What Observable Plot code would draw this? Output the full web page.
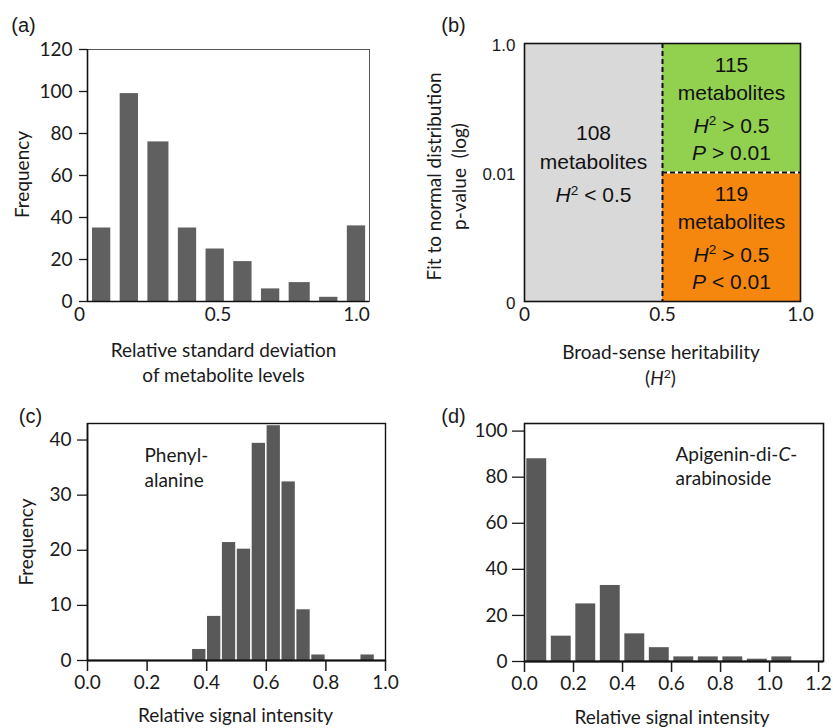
<!DOCTYPE html>
<html><head><meta charset="utf-8">
<script src="https://cdn.jsdelivr.net/npm/d3@7"></script>
<script src="https://cdn.jsdelivr.net/npm/@observablehq/plot@0.6"></script>
<style>
body{margin:0;background:#fff;}
#root{position:relative;width:833px;height:728px;overflow:hidden;}
.panel{position:absolute;}
</style></head><body><div id="root"></div>
<script>
// ---------- data ----------
// (a) histogram of relative standard deviation
const rsdBinLower = [0.03, 0.13, 0.23, 0.34, 0.44, 0.54, 0.64, 0.74, 0.85, 0.95];
const rsdBinUpper = [0.13, 0.23, 0.34, 0.44, 0.54, 0.64, 0.74, 0.85, 0.95, 1.05];
const rsdFrequency = [35, 99, 76, 35, 25, 19, 6, 9, 2, 36];
const rsdTicks = [0, 0.5, 1.0];
const rsdDomain = [0.029, 1.047];
const freqTicksA = [0, 20, 40, 60, 80, 100, 120];

// (b) classification of metabolites
const regionCounts = [108, 115, 119];
const regionH2Low = [0, 0.5, 0.5];
const regionH2High = [0.5, 1, 1];
const regionPLow = [0, 0.01, 0];
const regionPHigh = [1, 1, 0.01];
const regionColors = ["#d9d9d9", "#92d050", "#f5870f"];
const regionConditions = [["H² < 0.5"], ["H² > 0.5", "P > 0.01"], ["H² > 0.5", "P < 0.01"]];
const h2Ticks = [0, 0.5, 1.0];
const pTicks = [0, 0.01, 1];
const pTickLabels = ["0", "0.01", "1.0"];

// (c) phenylalanine
const pheBinLower = [0.35, 0.40, 0.45, 0.50, 0.55, 0.60, 0.65, 0.70, 0.75, 0.915];
const pheBinWidth = 0.05;
const pheFrequency = [2, 8, 21.4, 20.2, 39.4, 42.6, 32.4, 9.2, 1, 1];
const pheTicks = [0, 0.2, 0.4, 0.6, 0.8, 1.0];
const freqTicksC = [0, 10, 20, 30, 40];

// (d) apigenin-di-C-arabinoside
const apiBinLower = [0, 0.1, 0.2, 0.3, 0.4, 0.5, 0.6, 0.7, 0.8, 0.9, 1.0];
const apiBinWidth = 0.1;
const apiFrequency = [88, 11, 25, 33, 12, 6, 2, 2, 2, 1, 2];
const apiTicks = [0, 0.2, 0.4, 0.6, 0.8, 1.0, 1.2];
const freqTicksD = [0, 20, 40, 60, 80, 100];

// ---------- helpers ----------
const FONT = "Lato, 'Open Sans', sans-serif";
const ARIAL = "'Liberation Sans', Arial, sans-serif";
const BAR = "#595959";
const style = {fontFamily: FONT, fontSize: "19px", color: "#1a1a1a", background: "transparent", overflow: "visible"};
const fmt1 = d => d === 0 ? "0" : d.toFixed(1);

function richText(svg) {
  d3.select(svg).selectAll("text").each(function () {
    const s = this.textContent;
    const el = d3.select(this);
    let m = s.match(/^(\(?)([HP])(²?)( .*|\))$/);
    if (m) {
      el.text(null);
      if (m[1]) el.append("tspan").text(m[1]);
      el.append("tspan").attr("font-style", "italic").text(m[2]);
      let shift = false;
      if (m[3]) {
        el.append("tspan").attr("font-size", "0.65em").attr("dy", "-0.55em").text("2");
        shift = true;
      }
      const rest = el.append("tspan").text(m[4]);
      if (shift) rest.attr("dy", "0.3575em");
    } else if (s === "Apigenin-di-C-") {
      el.text(null);
      el.append("tspan").text("Apigenin-di-");
      el.append("tspan").attr("font-style", "italic").text("C");
      el.append("tspan").text("-");
    }
  });
  return svg;
}

function place(svg, left, top) {
  const div = document.createElement("div");
  div.className = "panel";
  div.style.left = left + "px";
  div.style.top = top + "px";
  div.appendChild(richText(svg));
  document.getElementById("root").appendChild(div);
}

// ---------- (a) ----------
const dataA = rsdFrequency.map((f, i) => ({lo: rsdBinLower[i], hi: rsdBinUpper[i], f}));
place(Plot.plot({
  width: 416, height: 364,
  marginLeft: 87, marginRight: 47, marginTop: 49, marginBottom: 63,
  style,
  x: {domain: rsdDomain},
  y: {domain: [0, 120]},
  marks: [
    Plot.rectY(dataA, {x1: "lo", x2: "hi", y: "f", fill: "#606060", insetLeft: 4.7, insetRight: 4.7}),
    Plot.frame({stroke: "#555", strokeWidth: 1}),
    Plot.ruleX([rsdDomain[0]], {stroke: "#111", strokeWidth: 1.6}),
    Plot.ruleY([0], {stroke: "#111", strokeWidth: 1.6}),
    Plot.axisY({ticks: freqTicksA, tickSize: 8, tickPadding: 7, label: null, strokeWidth: 1.3}),
    Plot.axisX({ticks: rsdTicks, tickSize: 0, tickPadding: 6, tickFormat: fmt1, label: null}),
    Plot.text(["Frequency"], {frameAnchor: "left", textAnchor: "middle", rotate: -90, dx: -65, dy: -1}),
    Plot.text(["Relative standard deviation\nof metabolite levels"], {frameAnchor: "bottom", textAnchor: "middle", lineAnchor: "middle", dx: -5, dy: 59.5, lineHeight: 1.32}),
    Plot.text(["(a)"], {frameAnchor: "top-left", textAnchor: "middle", lineAnchor: "middle", dx: -64, dy: -24, fontFamily: ARIAL, fontSize: 20})
  ]
}), 0, 0);

// ---------- (b) ----------
const C = 1 / 9800;
const sl = v => Math.sign(v) * Math.log1p(Math.abs(v) / C);
const slInv = s => Math.sign(s) * C * Math.expm1(Math.abs(s));
const regions = regionCounts.map((n, i) => ({
  n, h2lo: regionH2Low[i], h2hi: regionH2High[i], plo: regionPLow[i], phi: regionPHigh[i],
  color: regionColors[i], lines: [String(n), "metabolites", ...regionConditions[i]]
}));
const lineOffsets = {3: [-39, -10, 23], 4: [-43, -15, 18, 45]};
const regionTextMarks = regions.flatMap(r => r.lines.map((line, j) =>
  Plot.text([r], {
    x: d => (d.h2lo + d.h2hi) / 2,
    y: d => slInv((sl(d.plo) + sl(d.phi)) / 2),
    text: () => line,
    dy: lineOffsets[r.lines.length][j],
    fontFamily: ARIAL, fontSize: 21, fill: "#111"
  })));
place(Plot.plot({
  width: 417, height: 364,
  marginLeft: 108, marginRight: 33, marginTop: 43, marginBottom: 63,
  style,
  color: {type: "identity"},
  x: {domain: [0, 1]},
  y: {type: "symlog", constant: C, domain: [0, 1]},
  marks: [
    Plot.rect(regions, {x1: "h2lo", x2: "h2hi", y1: "plo", y2: "phi", fill: d => d.color}),
    Plot.ruleY([0.01], {x1: 0.5, x2: 1, stroke: "#fff", strokeWidth: 2}),
    Plot.ruleY([0.01], {x1: 0.5, x2: 1, stroke: "#111", strokeWidth: 2, strokeDasharray: "5,3"}),
    Plot.ruleX([0.5], {stroke: "#111", strokeWidth: 2, strokeDasharray: "5,3"}),
    Plot.frame({stroke: "#111", strokeWidth: 1.6}),
    ...regionTextMarks,
    Plot.axisY({ticks: pTicks, tickSize: 0, tickPadding: 9, label: null, dy: 2,
      tickFormat: d => pTickLabels[pTicks.indexOf(d)], fontFamily: ARIAL, fontSize: 17}),
    Plot.axisX({ticks: h2Ticks, tickSize: 0, tickPadding: 6, tickFormat: fmt1, label: null}),
    Plot.text(["Fit to normal distribution\np-value  (log)"], {frameAnchor: "left", textAnchor: "middle", rotate: -90, lineAnchor: "middle", dx: -79.5, dy: 4, lineHeight: 1.32}),
    Plot.text(["Broad-sense heritability"], {frameAnchor: "bottom", textAnchor: "middle", lineAnchor: "middle", dx: -1.5, dy: 51}),
    Plot.text(["(H²)"], {frameAnchor: "bottom", textAnchor: "middle", lineAnchor: "middle", dx: -2, dy: 77}),
    Plot.text(["(b)"], {frameAnchor: "top-left", textAnchor: "middle", lineAnchor: "middle", dx: -71, dy: -18, fontFamily: ARIAL, fontSize: 20})
  ]
}), 416, 0);

// ---------- (c) ----------
const dataC = pheFrequency.map((f, i) => ({lo: pheBinLower[i], hi: pheBinLower[i] + pheBinWidth, f}));
place(Plot.plot({
  width: 416, height: 364,
  marginLeft: 87, marginRight: 31, marginTop: 59, marginBottom: 68,
  style,
  x: {domain: [0, 1]},
  y: {domain: [0, 43]},
  marks: [
    Plot.rectY(dataC, {x1: "lo", x2: "hi", y: "f", fill: BAR, insetLeft: 0.8, insetRight: 0.8}),
    Plot.frame({stroke: "#111", strokeWidth: 1.4}),
    Plot.ruleX([0], {stroke: "#111", strokeWidth: 1.6}),
    Plot.ruleY([0], {stroke: "#111", strokeWidth: 2}),
    Plot.axisY({ticks: freqTicksC, tickSize: 10, tickPadding: 6, label: null, strokeWidth: 1.3}),
    Plot.axisX({ticks: pheTicks, tickSize: 11, tickPadding: 4, tickFormat: ".1f", label: null, strokeWidth: 1.5}),
    Plot.text(["Frequency"], {frameAnchor: "left", textAnchor: "middle", rotate: -90, dx: -60.3, dy: 0}),
    Plot.text(["Relative signal intensity"], {frameAnchor: "bottom", textAnchor: "middle", lineAnchor: "middle", dx: -1, dy: 55}),
    Plot.text(["Phenyl-\nalanine"], {frameAnchor: "top-left", textAnchor: "start", lineAnchor: "middle", dx: 57, dy: 42.5, lineHeight: 1.32}),
    Plot.text(["(c)"], {frameAnchor: "top-left", textAnchor: "middle", lineAnchor: "middle", dx: -57, dy: -6.5, fontFamily: ARIAL, fontSize: 20})
  ]
}), 0, 364);

// ---------- (d) ----------
const dataD = apiFrequency.map((f, i) => ({lo: apiBinLower[i], hi: apiBinLower[i] + apiBinWidth, f}));
place(Plot.plot({
  width: 417, height: 364,
  marginLeft: 108, marginRight: 10, marginTop: 59, marginBottom: 67,
  style,
  x: {domain: [0, 1.22]},
  y: {domain: [0, 103.3]},
  marks: [
    Plot.rectY(dataD, {x1: "lo", x2: "hi", y: "f", fill: BAR, insetLeft: 2.3, insetRight: 2.3}),
    Plot.frame({stroke: "#111", strokeWidth: 1.6}),
    Plot.ruleY([0], {stroke: "#111", strokeWidth: 1.8}),
    Plot.axisY({ticks: freqTicksD, tickSize: 12, tickPadding: 5, label: null, strokeWidth: 1.3}),
    Plot.axisX({ticks: apiTicks, tickSize: 11, tickPadding: 4, tickFormat: ".1f", label: null, strokeWidth: 1.5}),
    Plot.text(["Relative signal intensity"], {frameAnchor: "bottom", textAnchor: "middle", lineAnchor: "middle", dx: -2, dy: 56}),
    Plot.text(["Apigenin-di-C-"], {frameAnchor: "top-left", textAnchor: "start", lineAnchor: "middle", dx: 151, dy: 31}),
    Plot.text(["arabinoside"], {frameAnchor: "top-left", textAnchor: "start", lineAnchor: "middle", dx: 151, dy: 55}),
    Plot.text(["(d)"], {frameAnchor: "top-left", textAnchor: "middle", lineAnchor: "middle", dx: -71, dy: -6.5, fontFamily: ARIAL, fontSize: 20})
  ]
}), 416, 364);
</script>
</body></html>
